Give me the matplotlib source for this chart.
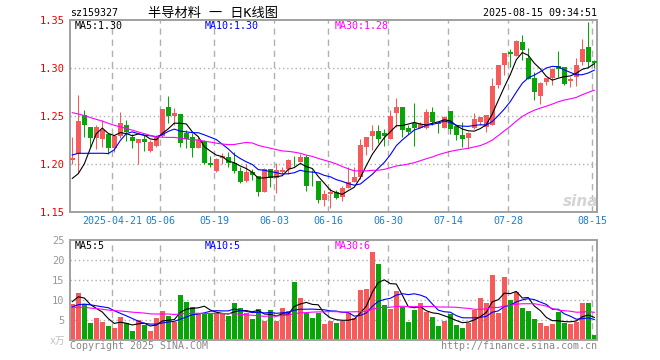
import numpy as np
import pandas as pd
import matplotlib
matplotlib.use('Agg')
import matplotlib.pyplot as plt

# daily K-line, 2025-04-10 .. 2025-08-15 (88 trading days)
opens = [1.2045, 1.2104, 1.2510, 1.2382, 1.2274, 1.2257, 1.2313, 1.2170, 1.2295, 1.2406,
         1.2285, 1.2222, 1.2260, 1.2135, 1.2191, 1.2292, 1.2594, 1.2503, 1.2521, 1.2319,
         1.2278, 1.2170, 1.2240, 1.2014, 1.1931, 1.2066, 1.2070, 1.2007, 1.1927, 1.1826,
         1.1920, 1.1875, 1.1705, 1.1948, 1.1851, 1.1920, 1.1944, 1.2045, 1.2024, 1.2076,
         1.1847, 1.1823, 1.1625, 1.1688, 1.1705, 1.1653, 1.1753, 1.1816, 1.1868, 1.2181,
         1.2292, 1.2344, 1.2319, 1.2260, 1.2535, 1.2597, 1.2372, 1.2431, 1.2378, 1.2372,
         1.2545, 1.2424, 1.2378, 1.2552, 1.2396, 1.2302, 1.2274, 1.2372, 1.2441, 1.2390,
         1.2406, 1.2823, 1.3031, 1.3163, 1.3125, 1.3267, 1.3101, 1.2892, 1.2708, 1.2858,
         1.2892, 1.3021, 1.3007, 1.2868, 1.2910, 1.3066, 1.3215, 1.3073]
highs = [1.2285, 1.2719, 1.2563, 1.2382, 1.2406, 1.2458, 1.2313, 1.2302, 1.2538, 1.2458,
         1.2313, 1.2260, 1.2302, 1.2250, 1.2302, 1.2573, 1.2708, 1.2587, 1.2521, 1.2354,
         1.2319, 1.2285, 1.2250, 1.2083, 1.2059, 1.2111, 1.2122, 1.2122, 1.1972, 1.2000,
         1.1944, 1.1875, 1.1955, 1.1948, 1.2007, 1.1972, 1.2049, 1.2083, 1.2100, 1.2094,
         1.1938, 1.1823, 1.1729, 1.1747, 1.1729, 1.1771, 1.1965, 1.1965, 1.2257, 1.2278,
         1.2406, 1.2406, 1.2361, 1.2563, 1.2691, 1.2597, 1.2406, 1.2639, 1.2441, 1.2569,
         1.2597, 1.2441, 1.2500, 1.2552, 1.2406, 1.2434, 1.2330, 1.2528, 1.2493, 1.2510,
         1.2900, 1.3031, 1.3160, 1.3194, 1.3292, 1.3344, 1.3212, 1.2962, 1.2858, 1.2892,
         1.2997, 1.3177, 1.3014, 1.2910, 1.3100, 1.3302, 1.3476, 1.3083]
lows = [1.2000, 1.1903, 1.2285, 1.2174, 1.2156, 1.2174, 1.2100, 1.2128, 1.2267, 1.2243,
        1.2170, 1.2000, 1.2139, 1.2128, 1.2174, 1.2285, 1.2431, 1.2406, 1.2174, 1.2170,
        1.2076, 1.2163, 1.2000, 1.1972, 1.1920, 1.2000, 1.1972, 1.1903, 1.1806, 1.1816,
        1.1833, 1.1670, 1.1705, 1.1764, 1.1694, 1.1896, 1.1896, 1.1979, 1.2024, 1.1719,
        1.1771, 1.1597, 1.1566, 1.1545, 1.1632, 1.1618, 1.1747, 1.1809, 1.1840, 1.2094,
        1.2146, 1.2215, 1.2188, 1.2260, 1.2389, 1.2285, 1.2313, 1.2188, 1.2372, 1.2361,
        1.2406, 1.2326, 1.2372, 1.2313, 1.2250, 1.2181, 1.2163, 1.2365, 1.2406, 1.2337,
        1.2406, 1.2795, 1.2927, 1.3014, 1.3125, 1.3083, 1.2885, 1.2667, 1.2625, 1.2823,
        1.2823, 1.2910, 1.2823, 1.2806, 1.2813, 1.3031, 1.3014, 1.3003]
closes = [1.2059, 1.2448, 1.2406, 1.2274, 1.2389, 1.2354, 1.2170, 1.2292, 1.2431, 1.2337,
          1.2243, 1.2260, 1.2233, 1.2233, 1.2292, 1.2573, 1.2503, 1.2528, 1.2222, 1.2260,
          1.2163, 1.2250, 1.2014, 1.1986, 1.2052, 1.2083, 1.2014, 1.1931, 1.1816, 1.1920,
          1.1885, 1.1712, 1.1944, 1.1858, 1.1938, 1.1938, 1.2042, 1.2038, 1.2076, 1.1771,
          1.1840, 1.1625, 1.1688, 1.1712, 1.1642, 1.1753, 1.1816, 1.1868, 1.2198, 1.2278,
          1.2344, 1.2260, 1.2292, 1.2500, 1.2597, 1.2354, 1.2337, 1.2378, 1.2417, 1.2545,
          1.2441, 1.2413, 1.2486, 1.2361, 1.2302, 1.2260, 1.2319, 1.2469, 1.2493, 1.2510,
          1.2813, 1.3031, 1.3160, 1.3142, 1.3285, 1.3188, 1.2885, 1.2753, 1.2847, 1.2892,
          1.2990, 1.2986, 1.2833, 1.2885, 1.3031, 1.3198, 1.3066, 1.3049]
# volume, 万
volumes = [9.0, 11.75, 9.0, 4.25, 5.5, 4.5, 3.5, 3.0, 5.75, 4.25,
           2.25, 5.0, 3.75, 2.25, 5.5, 7.25, 6.0, 4.5, 11.25, 9.5,
           8.25, 6.75, 6.5, 6.5, 6.75, 6.75, 6.0, 9.25, 8.0, 6.75,
           5.25, 7.75, 4.75, 7.5, 4.75, 8.0, 7.25, 14.5, 10.5, 6.75,
           5.5, 6.75, 4.0, 4.8, 4.3, 4.8, 6.8, 5.4, 12.5, 12.75,
           22.1, 19.1, 8.75, 7.75, 12.3, 8.3, 4.5, 7.5, 9.25, 7.0,
           5.75, 3.5, 4.8, 6.6, 3.75, 3.0, 4.2, 7.6, 10.5, 9.25,
           16.25, 6.75, 15.75, 10.0, 12.0, 8.0, 7.25, 5.25, 4.25, 3.5,
           4.0, 7.0, 4.25, 4.0, 4.5, 9.25, 9.25, 1.25]

# days before the window, only needed so the moving averages start right
prev_closes = [1.285, 1.292, 1.288, 1.295, 1.290, 1.286, 1.293, 1.289,
               1.284, 1.279, 1.282, 1.276, 1.280, 1.272, 1.268,
               1.258, 1.252, 1.247, 1.250, 1.244,
               1.227, 1.241, 1.227, 1.239, 1.235, 1.220, 1.190, 1.147, 1.162]
prev_volumes = [10.0, 9.5, 10.5, 9.0, 10.0, 9.5,
                8.0, 7.5, 8.5, 7.0, 8.0,
                7.5, 8.0, 7.0,
                7.0, 6.5, 7.5, 7.0, 6.5, 7.0,
                6.5, 7.5, 6.0, 8.0, 7.0,
                5.75, 10.5, 12.25, 10.5]

tick_idx = [7, 15, 24, 34, 43, 53, 63, 73, 87]
tick_labels = ['2025-04-21', '05-06', '05-19', '06-03', '06-16',
               '06-30', '07-14', '07-28', '08-15']

RED = '#f65a5a'
GREEN = '#07a507'
GRID = '#b0b0b0'
FRAME = '#a0a0a0'
TICK_BLUE = '#1a7fd0'
W, H = 660, 360


def moving_avg(prev, vals, n):
    s = pd.Series(list(prev) + list(vals))
    return s.rolling(n).mean().values[len(prev):]


def fx(px):
    return px / W


def fy(py):
    return 1 - py / H


def style_axes(ax, x):
    for sp in ax.spines.values():
        sp.set_color(FRAME)
        sp.set_linewidth(1.4)
    ax.tick_params(length=0, pad=4)
    ax.set_xlim(-0.38, 87.45)
    # vertical dashed lines sit 2px left of the candle
    for t in tick_idx:
        ax.axvline(t - 0.33, color=GRID, lw=1.0, ls=(0, (4.5, 3.5)), zorder=0)


def main():
    plt.rcParams['font.family'] = ['DejaVu Sans Mono', 'Noto Sans CJK SC']

    x = np.arange(len(closes))
    o = np.array(opens)
    c = np.array(closes)
    up = c >= o
    colors = [RED if u else GREEN for u in up]

    ma5 = moving_avg(prev_closes, closes, 5)
    ma10 = moving_avg(prev_closes, closes, 10)
    ma30 = moving_avg(prev_closes, closes, 30)
    vma5 = moving_avg(prev_volumes, volumes, 5)
    vma10 = moving_avg(prev_volumes, volumes, 10)
    vma30 = moving_avg(prev_volumes, volumes, 30)

    fig = plt.figure(figsize=(W / 100, H / 100), dpi=100)

    # price panel
    ax = fig.add_axes([fx(70), fy(212), fx(527), 192 / H])
    style_axes(ax, x)
    ax.set_ylim(1.15, 1.35)
    for lv in [1.20, 1.25, 1.30]:
        ax.axhline(lv, color=GRID, lw=1.0, ls=(0, (1, 2)), zorder=0)
    ax.vlines(x, lows, highs, colors=colors, lw=0.75, zorder=2)
    body = np.maximum(np.abs(c - o), 0.0007)
    ax.bar(x, body, bottom=np.minimum(o, c), width=0.78, color=colors,
           linewidth=0, zorder=3)
    ax.plot(x, ma5, color='black', lw=0.8, zorder=4)
    ax.plot(x, ma10, color='#0000ff', lw=0.8, zorder=4)
    ax.plot(x, ma30, color='#ff00ff', lw=0.8, zorder=4)
    ax.set_yticks([1.15, 1.20, 1.25, 1.30, 1.35])
    ax.set_yticklabels(['1.15', '1.20', '1.25', '1.30', '1.35'], color='#ee0000', fontsize=7.5)
    ax.set_xticks([t - 0.33 for t in tick_idx])
    ax.set_xticklabels(tick_labels, color=TICK_BLUE, fontsize=7.2)
    ax.tick_params(axis='x', pad=3)

    ax.text(fx(75), fy(26), f'MA5:{ma5[-1]:.2f}', transform=fig.transFigure,
            color='black', fontsize=7.2, va='center')
    ax.text(fx(205), fy(26), f'MA10:{ma10[-1]:.2f}', transform=fig.transFigure,
            color='#0000ff', fontsize=7.2, va='center')
    ax.text(fx(335), fy(26), f'MA30:{ma30[-1]:.2f}', transform=fig.transFigure,
            color='#ff00ff', fontsize=7.2, va='center')
    # watermark
    ax.text(fx(581), fy(201), 'sina', transform=fig.transFigure, color='#d4d4d4',
            fontsize=11, fontweight='bold', style='italic', ha='center', va='center',
            family='DejaVu Sans', zorder=1)

    # volume panel
    vax = fig.add_axes([fx(70), fy(340), fx(527), 100 / H])
    style_axes(vax, x)
    vax.set_ylim(0, 25)
    for lv in [5, 10, 15, 20]:
        vax.axhline(lv, color=GRID, lw=1.0, ls=(0, (1, 2)), zorder=0)
    vax.bar(x, volumes, width=0.78, color=colors, linewidth=0, zorder=2)
    vax.plot(x, vma5, color='black', lw=0.8, zorder=3)
    vax.plot(x, vma10, color='#0000ff', lw=0.8, zorder=3)
    vax.plot(x, vma30, color='#ff00ff', lw=0.8, zorder=3)
    vax.set_yticks([5, 10, 15, 20, 25])
    vax.set_yticklabels(['5', '10', '15', '20', '25'], color='#999999', fontsize=7.5)
    vax.set_xticks([])

    vax.text(fx(75), fy(246), f'MA5:{int(vma5[-1])}', transform=fig.transFigure,
             color='black', fontsize=7.2, va='center')
    vax.text(fx(205), fy(246), f'MA10:{int(vma10[-1])}', transform=fig.transFigure,
             color='#0000ff', fontsize=7.2, va='center')
    vax.text(fx(335), fy(246), f'MA30:{int(vma30[-1])}', transform=fig.transFigure,
             color='#ff00ff', fontsize=7.2, va='center')

    # header / footer texts
    fig.text(fx(70), fy(13.5), 'sz159327', color='black', fontsize=7.2, va='center')
    fig.text(fx(213), fy(13), '半导材料 一 日K线图', color='black', fontsize=9.5,
             ha='center', va='center')
    fig.text(fx(597), fy(13.5), '2025-08-15 09:34:51', color='black', fontsize=7.2,
             ha='right', va='center')
    fig.text(fx(65), fy(341), 'x万', color='#c0c0c0', fontsize=7, ha='right', va='center')
    fig.text(fx(70), fy(346), 'Copyright 2025 SINA.COM', color='#888888', fontsize=7.2,
             va='center')
    fig.text(fx(597), fy(346), 'http://finance.sina.com.cn', color='#888888', fontsize=7.2,
             ha='right', va='center')

    fig.savefig('out.png', dpi=100)


if __name__ == '__main__':
    main()
